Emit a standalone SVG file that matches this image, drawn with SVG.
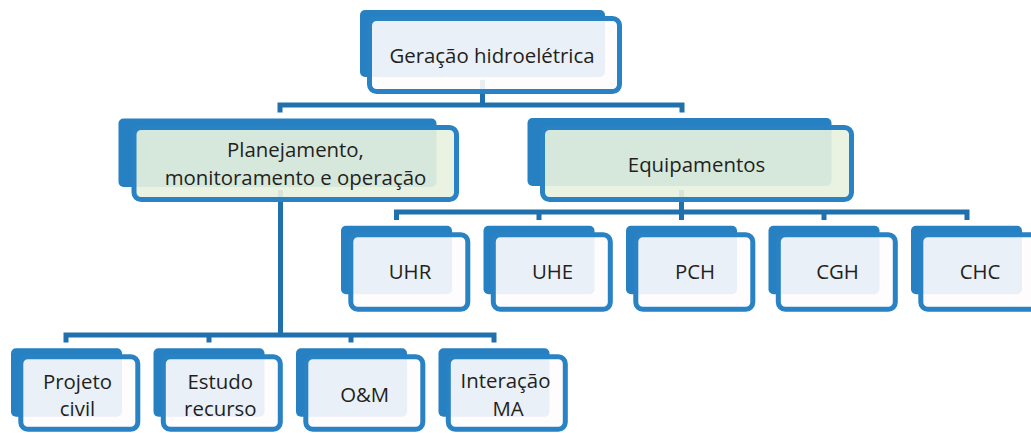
<svg xmlns="http://www.w3.org/2000/svg" width="1031" height="433" viewBox="0 0 1031 433">
<style>
.back{fill:#2680c2}
.card{fill:#fffcfd;fill-opacity:0.9;stroke:#2982c4;stroke-width:5}
.green{fill:#e8f1de;fill-opacity:0.91}
.conn{fill:none;stroke:#2170ae;stroke-width:5;stroke-linejoin:miter;stroke-linecap:butt}
text{font-family:"Open Sans","Noto Sans","Liberation Sans",sans-serif;font-size:20.4px;fill:#231f20;text-anchor:middle}
</style>
<rect width="1031" height="433" fill="#ffffff"/>
<g id="connectors">
<path class="conn" d="M482.5 80V105M280 112.5V105H682V112.5"/>
<path class="conn" d="M681.5 190V220M396.5 220V212H967V220M539 212V220M824 212V220"/>
<path class="conn" d="M280.5 190V335M66 342.5V335H494V342.5M209 335V342.5M351 335V342.5"/>
</g>
<g id="n-geracao">
<rect class="back" x="360" y="10" width="245" height="67" rx="5"/>
<rect class="card" x="369.5" y="18.5" width="250" height="73" rx="7"/>
<text x="492" y="63">Geração hidroelétrica</text>
</g>
<g id="n-planejamento">
<rect class="back" x="118.5" y="118.5" width="318" height="68.5" rx="5"/>
<rect class="card green" x="134" y="127.5" width="322.5" height="72" rx="7"/>
<text x="295.5" y="157">Planejamento,</text>
<text x="295.5" y="185">monitoramento e operação</text>
</g>
<g id="n-equipamentos">
<rect class="back" x="527.5" y="118" width="304" height="68" rx="5"/>
<rect class="card green" x="542.5" y="127.5" width="309" height="72" rx="7"/>
<text x="696.5" y="171.5">Equipamentos</text>
</g>
<g id="n-uhr">
<rect class="back" x="341" y="225.7" width="111" height="68.5" rx="5"/>
<rect class="card" x="350.8" y="234.8" width="117" height="74.4" rx="7"/>
<text x="410" y="279">UHR</text>
</g>
<g id="n-uhe">
<rect class="back" x="483.5" y="225.7" width="111" height="68.5" rx="5"/>
<rect class="card" x="493.3" y="234.8" width="117" height="74.4" rx="7"/>
<text x="552.5" y="279">UHE</text>
</g>
<g id="n-pch">
<rect class="back" x="626" y="225.7" width="111" height="68.5" rx="5"/>
<rect class="card" x="635.8" y="234.8" width="117" height="74.4" rx="7"/>
<text x="695" y="279">PCH</text>
</g>
<g id="n-cgh">
<rect class="back" x="768.5" y="225.7" width="111" height="68.5" rx="5"/>
<rect class="card" x="778.3" y="234.8" width="117" height="74.4" rx="7"/>
<text x="837.5" y="279">CGH</text>
</g>
<g id="n-chc">
<rect class="back" x="911" y="225.7" width="111" height="68.5" rx="5"/>
<rect class="card" x="920.8" y="234.8" width="117" height="74.4" rx="7"/>
<text x="980" y="279">CHC</text>
</g>
<g id="n-projeto">
<rect class="back" x="11" y="348.3" width="111" height="68.4" rx="5"/>
<rect class="card" x="20.8" y="356.8" width="117" height="72.4" rx="7"/>
<text x="77.5" y="389">Projeto</text>
<text x="77.5" y="415.5">civil</text>
</g>
<g id="n-estudo">
<rect class="back" x="153.5" y="348.3" width="111" height="68.4" rx="5"/>
<rect class="card" x="163.3" y="356.8" width="117" height="72.4" rx="7"/>
<text x="220.3" y="389">Estudo</text>
<text x="220.3" y="415.5">recurso</text>
</g>
<g id="n-om">
<rect class="back" x="296" y="348.3" width="111" height="68.4" rx="5"/>
<rect class="card" x="305.8" y="356.8" width="117" height="72.4" rx="7"/>
<text x="364.7" y="401.7">O&amp;M</text>
</g>
<g id="n-interacao">
<rect class="back" x="438.5" y="348.3" width="111" height="68.4" rx="5"/>
<rect class="card" x="448.3" y="356.8" width="117" height="72.4" rx="7"/>
<text x="505.5" y="387.5">Interação</text>
<text x="508" y="415.5">MA</text>
</g>
</svg>
